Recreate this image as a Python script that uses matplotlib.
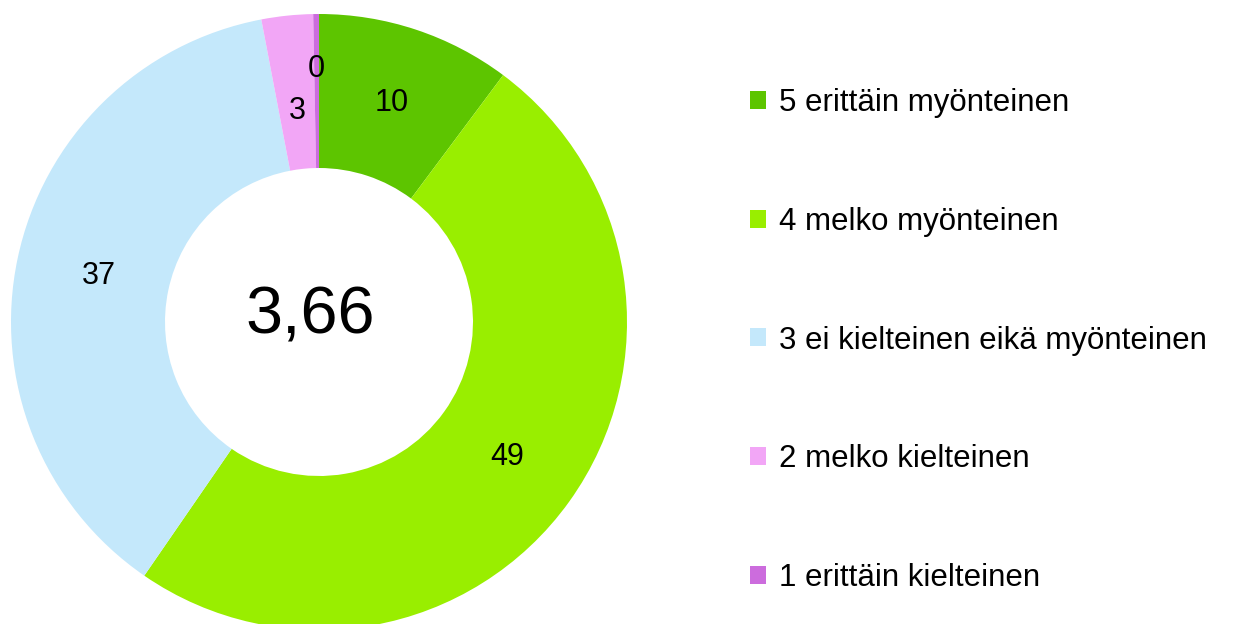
import numpy as np
import matplotlib
matplotlib.use('Agg')
import matplotlib.pyplot as plt

plt.rcParams['font.family'] = ['Liberation Sans', 'DejaVu Sans']

categories = ['5 erittäin myönteinen', '4 melko myönteinen',
              '3 ei kielteinen eikä myönteinen', '2 melko kielteinen',
              '1 erittäin kielteinen']
values = [10.2, 49.4, 37.4, 2.7, 0.3]
value_labels = ['10', '49', '37', '3', '0']
mean_text = '3,66'
colors = ['#5DC500', '#99EE00', '#C4E8FB', '#F2A6F6', '#CC6CDD']

fig = plt.figure(figsize=(12.54, 6.24), dpi=100)
ax = fig.add_axes([11 / 1254, -6 / 624, 616 / 1254, 616 / 624])

wedges, _ = ax.pie(values, colors=colors, startangle=90, counterclock=False,
                   radius=1, wedgeprops=dict(width=0.5, linewidth=0))
ax.set_xlim(-1, 1)
ax.set_ylim(-1, 1)
ax.set_aspect('equal')
ax.axis('off')

# value labels in the middle of the ring, small slices nudged
rfac = [0.75, 0.75, 0.73, 0.69, 0.82]
for w, lab, r in zip(wedges, value_labels, rfac):
    ang = np.deg2rad((w.theta1 + w.theta2) / 2)
    ax.text(r * np.cos(ang), r * np.sin(ang), lab, ha='center', va='center',
            fontsize=22)

ax.text(-0.03, 0.017, mean_text, ha='center', va='center', fontsize=48)

leg = fig.legend(wedges, categories, loc='upper left',
                 bbox_to_anchor=(750 / 1254, 1 - 88 / 624),
                 frameon=False, fontsize=22.5, handlelength=0.51,
                 handleheight=0.51, handletextpad=0.42, labelspacing=2.84,
                 borderpad=0, borderaxespad=0)

fig.savefig('out.png', dpi=100, facecolor='white')
